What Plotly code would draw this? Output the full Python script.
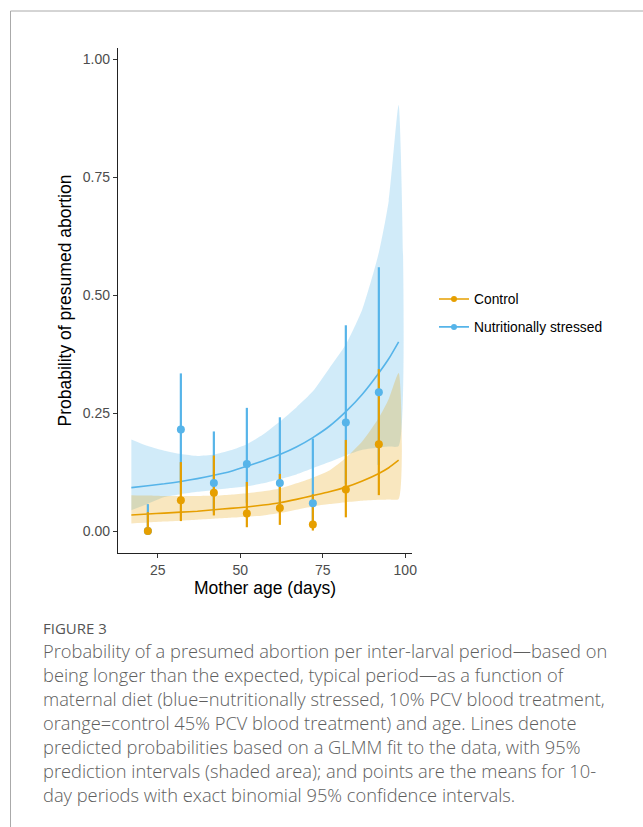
import plotly.graph_objects as go

# ---------------- data ----------------
age_bins = [22, 32, 42, 52, 62, 72, 82, 92]

ctrl_mean = [0.000, 0.065, 0.081, 0.037, 0.049, 0.014, 0.088, 0.184]
ctrl_lo   = [0.000, 0.021, 0.033, 0.008, 0.013, 0.001, 0.029, 0.076]
ctrl_hi   = [0.040, 0.146, 0.160, 0.104, 0.121, 0.078, 0.193, 0.343]

stress_mean = [0.000, 0.215, 0.102, 0.142, 0.102, 0.059, 0.230, 0.294]
stress_lo   = [0.000, 0.100, 0.040, 0.060, 0.040, 0.010, 0.100, 0.140]
stress_hi   = [0.057, 0.334, 0.211, 0.261, 0.241, 0.196, 0.436, 0.559]

fit_age = [17, 22, 27, 32, 37, 42, 47, 52, 57, 62, 67, 72, 77, 82, 87, 92, 95, 98]

ctrl_fit = [0.034, 0.036, 0.038, 0.040, 0.042, 0.045, 0.048, 0.051, 0.055,
            0.060, 0.067, 0.075, 0.083, 0.093, 0.106, 0.122, 0.134, 0.150]
ctrl_fit_lo = [0.016, 0.018, 0.020, 0.022, 0.024, 0.026, 0.028, 0.030, 0.033,
               0.038, 0.045, 0.052, 0.057, 0.061, 0.064, 0.066, 0.067, 0.068]
ctrl_fit_hi = [0.076, 0.075, 0.074, 0.074, 0.074, 0.075, 0.077, 0.080, 0.084,
               0.090, 0.101, 0.113, 0.128, 0.155, 0.190, 0.240, 0.280, 0.335]

stress_fit = [0.092, 0.096, 0.100, 0.105, 0.111, 0.118, 0.126, 0.137, 0.149,
              0.162, 0.178, 0.198, 0.222, 0.253, 0.290, 0.335, 0.365, 0.401]
stress_fit_lo = [0.044, 0.058, 0.072, 0.078, 0.083, 0.087, 0.091, 0.095, 0.101,
                 0.110, 0.120, 0.133, 0.146, 0.160, 0.172, 0.177, 0.179, 0.180]
stress_fit_hi = [0.194, 0.180, 0.170, 0.163, 0.159, 0.162, 0.171, 0.184, 0.205,
                 0.232, 0.262, 0.296, 0.345, 0.395, 0.470, 0.590, 0.700, 0.903]

x_ticks = [25, 50, 75, 100]
y_ticks = [0.00, 0.25, 0.50, 0.75, 1.00]

legend_names = ["Control", "Nutritionally stressed"]

caption_label = "FIGURE 3"
caption_lines = [
    "Probability of a presumed abortion per inter-larval period\u2014based on",
    "being longer than the expected, typical period\u2014as a function of",
    "maternal diet (blue=nutritionally stressed, 10% PCV blood treatment,",
    "orange=control 45% PCV blood treatment) and age. Lines denote",
    "predicted probabilities based on a GLMM fit to the data, with 95%",
    "prediction intervals (shaded area); and points are the means for 10-",
    "day periods with exact binomial 95% confidence intervals.",
]

ORANGE = "#E69F00"
BLUE = "#56B4E9"

# ---------------- layout geometry (pixels) ----------------
W, H = 643, 827
L, R, T, B = 118, 412, 48, 553
PW, PH = R - L, B - T


def px(x):
    return (x - L) / PW


def py(y):
    return (B - y) / PH


fig = go.Figure()


def ribbon(lo, hi, color):
    xs = list(fit_age) + list(reversed(fit_age))
    ys = list(hi) + list(reversed(lo))
    fig.add_trace(go.Scatter(x=xs, y=ys, fill="toself", fillcolor=color,
                             line=dict(width=0, color=color, shape="spline", smoothing=0.6),
                             mode="lines", hoverinfo="skip", showlegend=False))


ribbon(stress_fit_lo, stress_fit_hi, "rgba(86,180,233,0.27)")
ribbon(ctrl_fit_lo, ctrl_fit_hi, "rgba(230,159,0,0.25)")

fig.add_trace(go.Scatter(x=fit_age, y=stress_fit, mode="lines",
                         line=dict(color=BLUE, width=1.6, shape="spline", smoothing=0.6),
                         showlegend=False))
fig.add_trace(go.Scatter(x=fit_age, y=ctrl_fit, mode="lines",
                         line=dict(color=ORANGE, width=1.6, shape="spline", smoothing=0.6),
                         showlegend=False))


def ranges(lo, hi, color):
    xs, ys = [], []
    for a, l, h in zip(age_bins, lo, hi):
        xs += [a, a, None]
        ys += [l, h, None]
    fig.add_trace(go.Scatter(x=xs, y=ys, mode="lines",
                             line=dict(color=color, width=2.2),
                             showlegend=False, hoverinfo="skip"))


ranges(stress_lo, stress_hi, BLUE)
ranges(ctrl_lo, ctrl_hi, ORANGE)

fig.add_trace(go.Scatter(x=age_bins, y=stress_mean, mode="markers",
                         marker=dict(color=BLUE, size=8), showlegend=False))
fig.add_trace(go.Scatter(x=age_bins, y=ctrl_mean, mode="markers",
                         marker=dict(color=ORANGE, size=8), showlegend=False))

# legend entries
for name, col, grp in [(legend_names[0], ORANGE, "a"), (legend_names[1], BLUE, "b")]:
    fig.add_trace(go.Scatter(x=[None], y=[None], mode="lines+markers", name=name,
                             legendgroup=grp,
                             line=dict(color=col, width=1.6),
                             marker=dict(color=col, size=6)))

axis_font = dict(family="Liberation Sans, Arial, sans-serif", size=14, color="#4d4d4d")
title_font = dict(family="Liberation Sans, Arial, sans-serif", size=17.5, color="#000000")

fig.update_xaxes(range=[12.95, 102.05], tickvals=x_ticks, ticktext=[str(v) for v in x_ticks],
                 showline=True, linecolor="#222222", linewidth=1.3,
                 ticks="outside", ticklen=4, tickcolor="#333333", tickwidth=1.1,
                 tickfont=axis_font, showgrid=False, zeroline=False,
                 title=dict(text="Mother age (days)", font=title_font, standoff=2))
fig.update_yaxes(range=[-0.0466, 1.0236], tickvals=y_ticks, tickformat=".2f",
                 showline=True, linecolor="#222222", linewidth=1.3,
                 ticks="outside", ticklen=4, tickcolor="#333333", tickwidth=1.1,
                 tickfont=axis_font, showgrid=False, zeroline=False,
                 title=dict(text="Probability of presumed abortion", font=title_font, standoff=6))

annotations = [
    dict(text=caption_label, x=px(41), y=py(628), xref="paper", yref="paper",
         xanchor="left", yanchor="middle", showarrow=False,
         font=dict(family="Open Sans", size=15, color="#555555", weight=500)),
]
line_y = [650, 674, 698, 722, 746, 770, 794]
for txt, yy in zip(caption_lines, line_y):
    annotations.append(dict(text=txt, x=px(41), y=py(yy), xref="paper", yref="paper",
                            xanchor="left", yanchor="middle", showarrow=False,
                            font=dict(family="Open Sans", size=18.3, color="#5e5e5e", weight=300)))

shapes = [
    dict(type="line", xref="paper", yref="paper", x0=px(10.5), x1=px(643), y0=py(11), y1=py(11),
         line=dict(color="#aaaaaa", width=1)),
    dict(type="line", xref="paper", yref="paper", x0=px(10.5), x1=px(10.5), y0=py(11), y1=py(827),
         line=dict(color="#aaaaaa", width=1)),
]

fig.update_layout(
    width=W, height=H,
    margin=dict(l=L, r=W - R, t=T, b=H - B),
    paper_bgcolor="white", plot_bgcolor="white",
    showlegend=True,
    legend=dict(x=px(434), y=py(313), xanchor="left", yanchor="middle",
                font=dict(family="Liberation Sans, Arial, sans-serif", size=13.8, color="#000000"),
                tracegroupgap=7, bgcolor="rgba(0,0,0,0)"),
    annotations=annotations,
    shapes=shapes,
)

fig.write_html("out.html")
